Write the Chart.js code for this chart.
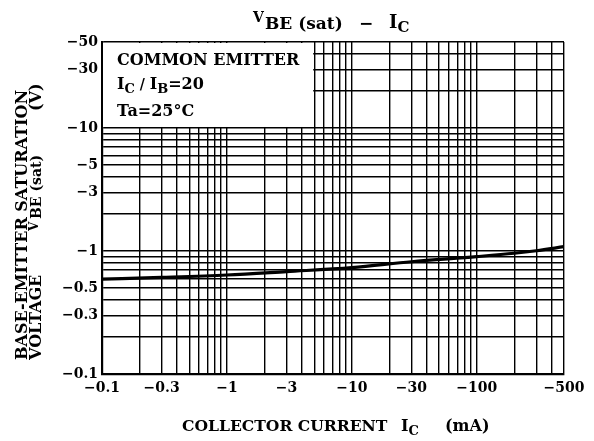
<!DOCTYPE html>
<html lang="en">
<head>
  <meta charset="UTF-8">
  <title>VBE(sat) - IC</title>
  <script src="https://cdn.jsdelivr.net/npm/chart.js"></script>
  <style>
    body {
      margin: 0;
      background: #fff;
      overflow: hidden;
    }
    canvas {
      display: block;
    }
  </style>
</head>
<body>
  <canvas id="vbeChart" width="594" height="441"></canvas>
  <script>
    // collector current |Ic| in mA and base-emitter saturation voltage |VBE(sat)| in V
    const currentMA = [0.1, 0.3, 1, 3, 10, 30, 100, 200, 300, 500];
    const vbeSat = [0.59, 0.61, 0.638, 0.68, 0.732, 0.818, 0.90, 0.958, 1.005, 1.084];

    // grid lines (log paper) and the ticks that get a label
    const xGrid = [0.1, 0.2, 0.3, 0.4, 0.5, 0.6, 0.7, 0.8, 0.9,
                   1, 2, 3, 4, 5, 6, 7, 8, 9,
                   10, 20, 30, 40, 50, 60, 70, 80, 90,
                   100, 200, 300, 400, 500];
    const yGrid = [0.1, 0.2, 0.3, 0.4, 0.5, 0.6, 0.7, 0.8, 0.9,
                   1, 2, 3, 4, 5, 6, 7, 8, 9,
                   10, 20, 30, 40, 50];
    const xTickLabels = [0.1, 0.3, 1, 3, 10, 30, 100, 500];
    const yTickLabels = [0.1, 0.3, 0.5, 1, 3, 5, 10, 30, 50];

    const SERIF = '"DejaVu Serif", "Liberation Serif", serif';
    const font = (size) => 'bold ' + size + 'px ' + SERIF;

    // draws pieces of text one after another: [text, size, baseline shift]
    function richText(ctx, x, y, parts) {
      parts.forEach(([t, size, dy]) => {
        ctx.font = font(size);
        ctx.fillText(t, x, y + (dy || 0));
        x += ctx.measureText(t).width;
      });
    }

    const annotations = {
      id: 'annotations',
      beforeDraw(chart) {
        const ctx = chart.ctx;
        ctx.save();
        ctx.fillStyle = '#fff';
        ctx.fillRect(0, 0, chart.width, chart.height);
        ctx.restore();
      },
      beforeDatasetsDraw(chart) {
        // blank box for the conditions, upper left
        const { ctx, scales: { x, y } } = chart;
        const l = x.getPixelForValue(0.1) + 1;
        const r = x.getPixelForValue(5) - 1;
        const t = y.getPixelForValue(50) + 1;
        const b = y.getPixelForValue(10) - 1;
        ctx.save();
        ctx.fillStyle = '#fff';
        ctx.fillRect(l, t, r - l, b - t);
        ctx.restore();
      },
      afterDraw(chart) {
        const ctx = chart.ctx;
        ctx.save();
        ctx.fillStyle = '#000';
        ctx.textBaseline = 'alphabetic';
        ctx.textAlign = 'left';

        // title
        richText(ctx, 253, 22, [['V', 14, 0]]);
        richText(ctx, 265, 28.5, [['BE (sat)', 17, 0]]);
        richText(ctx, 359, 28.5, [['−', 17, 0]]);
        richText(ctx, 389, 28, [['I', 18, 0], ['C', 15, 4]]);

        // conditions
        richText(ctx, 117, 65, [['COMMON EMITTER', 16, 0]]);
        richText(ctx, 117, 89, [['I', 16, 0], ['C', 13, 4], [' / ', 14, 0], ['I', 16, 0], ['B', 13, 4], ['=20', 16, 0]]);
        richText(ctx, 117, 115.5, [['Ta=25°C', 16, 0]]);

        // x axis title
        richText(ctx, 182, 431, [['COLLECTOR CURRENT', 15.6, 0]]);
        richText(ctx, 401, 431, [['I', 16, 0], ['C', 13, 4]]);
        richText(ctx, 445, 431, [['(mA)', 16, 0]]);

        // y axis title, two rotated lines
        ctx.save();
        ctx.translate(27, 225);
        ctx.rotate(-Math.PI / 2);
        ctx.textAlign = 'center';
        ctx.font = font(16);
        ctx.fillText('BASE-EMITTER SATURATION', 0, 0);
        ctx.restore();

        ctx.save();
        ctx.translate(41, 0);
        ctx.rotate(-Math.PI / 2);
        richText(ctx, -360, 0, [['VOLTAGE', 16, 0]]);
        richText(ctx, -231, -3, [['V', 12, 0]]);
        richText(ctx, -219, 0, [['BE (sat)', 14, 0]]);
        richText(ctx, -111, 0, [['(V)', 16, 0]]);
        ctx.restore();

        ctx.restore();
      }
    };

    const ctx = document.getElementById('vbeChart').getContext('2d');
    new Chart(ctx, {
      type: 'line',
      data: {
        datasets: [{
          data: currentMA.map((v, i) => ({ x: v, y: vbeSat[i] })),
          borderColor: '#000',
          borderWidth: 3.2,
          pointRadius: 0,
          cubicInterpolationMode: 'monotone',
          fill: false
        }]
      },
      options: {
        responsive: false,
        animation: false,
        layout: { padding: { top: 42, right: 30, bottom: 0, left: 0 } },
        plugins: {
          legend: { display: false },
          title: { display: false },
          tooltip: { enabled: false }
        },
        scales: {
          x: {
            type: 'logarithmic',
            min: 0.1,
            max: 500,
            afterBuildTicks: (s) => { s.ticks = xGrid.map(v => ({ value: v })); },
            afterFit: (s) => { s.height = 67; },
            grid: { color: '#000', lineWidth: 1.4, drawTicks: false },
            border: { color: '#000', width: 2.2 },
            ticks: {
              autoSkip: false,
              maxRotation: 0,
              padding: 6,
              color: '#000',
              font: { family: SERIF, size: 14, weight: 'bold' },
              callback: (v) => xTickLabels.includes(v) ? '−' + v : ''
            }
          },
          y: {
            type: 'logarithmic',
            min: 0.1,
            max: 50,
            afterBuildTicks: (s) => { s.ticks = yGrid.map(v => ({ value: v })); },
            afterFit: (s) => { s.width = 102; },
            grid: { color: '#000', lineWidth: 1.4, drawTicks: false },
            border: { color: '#000', width: 2.2 },
            ticks: {
              autoSkip: false,
              padding: 4,
              color: '#000',
              font: { family: SERIF, size: 14, weight: 'bold' },
              callback: (v) => yTickLabels.includes(v) ? '−' + v : ''
            }
          }
        }
      },
      plugins: [annotations]
    });
  </script>
</body>
</html>
